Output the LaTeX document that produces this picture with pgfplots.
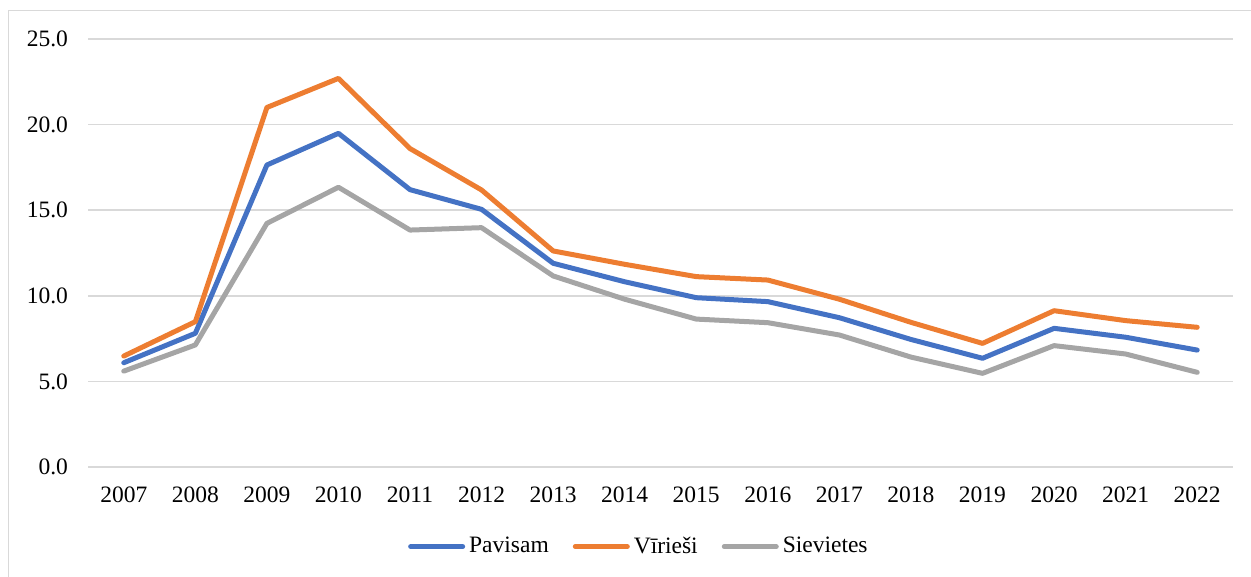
\documentclass[border=0pt]{standalone}
\usepackage{fontspec}
\setmainfont{Liberation Serif}
\usepackage{pgfplots}
\pgfplotsset{compat=1.18}
\definecolor{cblue}{HTML}{4472C4}
\definecolor{corange}{HTML}{ED7D31}
\definecolor{cgray}{HTML}{A5A5A5}
\definecolor{gridc}{HTML}{D9D9D9}
\newcommand{\chartfont}{\fontsize{11.75}{13}\selectfont}

\begin{document}
\begin{tikzpicture}
  \useasboundingbox (0,0) rectangle (625.5pt,-288.5pt);
  \draw[gridc, line width=0.7pt] (4.25pt,-290pt) -- (4.25pt,-5.25pt) -- (627pt,-5.25pt);
  \begin{axis}[
      at={(44pt,-233.5pt)}, anchor=south west,
      scale only axis, width=572.5pt, height=214pt,
      xmin=2006.5, xmax=2022.5,
      ymin=0, ymax=25,
      xtick={2007,...,2022},
      ytick={0,5,...,25},
      axis line style={draw=none},
      major tick length=0pt,
      ymajorgrids, major grid style={gridc, line width=0.75pt},
      /pgf/number format/assume math mode=true,
      tick label style={font=\chartfont, text=black},
      xticklabel style={/pgf/number format/1000 sep={}, /pgf/number format/precision=0, /pgf/number format/fixed, yshift=-6.5pt},
      yticklabel style={/pgf/number format/fixed, /pgf/number format/fixed zerofill, /pgf/number format/precision=1, xshift=-6.5pt},
      legend columns=3,
      legend style={at={(axis description cs:0.482,-0.186)}, anchor=center,
        draw=none, fill=none, font=\chartfont,
        /tikz/every even column/.append style={column sep=10pt},
        inner sep=0pt},
      legend cell align=left,
      legend image code/.code={\draw[#1, line cap=round] (0pt,0pt) -- (26pt,0pt);},
      every axis plot/.append style={line width=2.5pt, line join=round, line cap=round},
    ]
    \addplot[cblue] coordinates {(2007,6.09)(2008,7.81)(2009,17.64)(2010,19.49)(2011,16.2)(2012,15.05)(2013,11.9)(2014,10.82)(2015,9.89)(2016,9.66)(2017,8.72)(2018,7.45)(2019,6.35)(2020,8.1)(2021,7.58)(2022,6.83)};
    \addlegendentry{Pavisam}
    \addplot[corange] coordinates {(2007,6.48)(2008,8.49)(2009,21.0)(2010,22.7)(2011,18.6)(2012,16.18)(2013,12.62)(2014,11.84)(2015,11.12)(2016,10.92)(2017,9.8)(2018,8.45)(2019,7.22)(2020,9.13)(2021,8.55)(2022,8.16)};
    \addlegendentry{Vīrieši}
    \addplot[cgray] coordinates {(2007,5.6)(2008,7.13)(2009,14.23)(2010,16.34)(2011,13.84)(2012,13.98)(2013,11.16)(2014,9.8)(2015,8.64)(2016,8.43)(2017,7.71)(2018,6.42)(2019,5.47)(2020,7.09)(2021,6.6)(2022,5.53)};
    \addlegendentry{Sievietes}
  \end{axis}
\end{tikzpicture}
\end{document}
